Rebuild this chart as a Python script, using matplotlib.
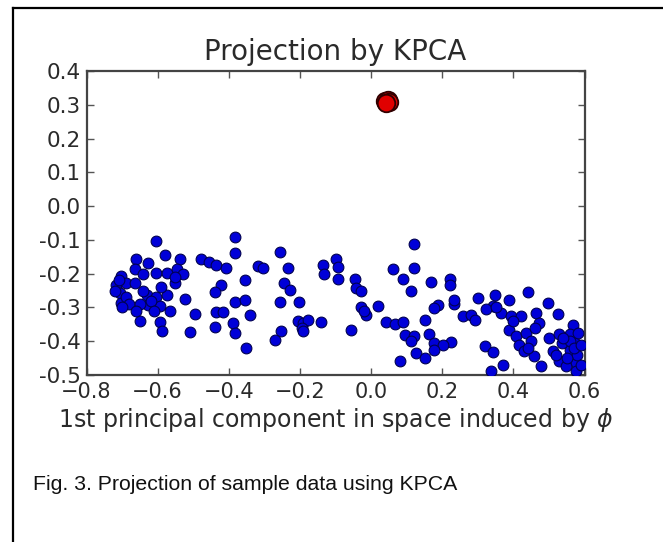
import matplotlib
matplotlib.use("Agg")
import matplotlib.pyplot as plt
from matplotlib.lines import Line2D

# ---------------- DATA ---------------- #
blue_x = [
    # left cluster
    -0.604, -0.580, -0.660, -0.627, -0.538, -0.664, -0.604, -0.575, -0.547, -0.529,
    -0.702, -0.716, -0.688, -0.664, -0.552, -0.706, -0.631, -0.604, -0.575, -0.524,
    -0.702, -0.627, -0.594, -0.566, -0.496, -0.650, -0.594, -0.589, -0.510,
    -0.720, -0.690, -0.680, -0.710, -0.650, -0.640, -0.620, -0.640, -0.590, -0.550,
    -0.700, -0.660, -0.610,
    # -0.5 .. -0.1
    -0.383, -0.383, -0.477, -0.455, -0.435, -0.407, -0.318, -0.305, -0.255, -0.234,
    -0.355, -0.421, -0.440, -0.246, -0.229, -0.383, -0.355, -0.255, -0.203, -0.435,
    -0.416, -0.341, -0.440, -0.388, -0.383, -0.206, -0.190, -0.178, -0.140, -0.195,
    -0.192, -0.252, -0.271, -0.351, -0.135, -0.131, -0.098, -0.093, -0.093,
    # -0.1 .. 0.26
    0.122, 0.061, 0.120, -0.046, 0.089, -0.042, -0.028, 0.113, 0.169, 0.221,
    0.223, -0.028, 0.019, -0.013, -0.020, 0.188, 0.178, 0.234, -0.056, 0.043,
    0.066, 0.089, 0.152, 0.094, 0.122, 0.164, 0.178, 0.225, 0.202, 0.127,
    0.151, 0.178, 0.080, 0.113, 0.234, 0.258,
    # right cluster
    0.441, 0.300, 0.347, 0.387, 0.497, 0.342, 0.281, 0.291, 0.324, 0.366,
    0.394, 0.422, 0.464, 0.525, 0.473, 0.389, 0.408, 0.436, 0.450, 0.417,
    0.431, 0.459, 0.478, 0.501, 0.529, 0.567, 0.558, 0.511, 0.529, 0.558,
    0.572, 0.576, 0.548, 0.319, 0.342, 0.370, 0.338, 0.576, 0.581, 0.538,
    0.580, 0.560, 0.550, 0.570, 0.540, 0.590, 0.590, 0.520, 0.400, 0.440,
    0.460, 0.350,
]
blue_y = [
    -0.104, -0.146, -0.158, -0.168, -0.156, -0.186, -0.199, -0.197, -0.186, -0.202,
    -0.207, -0.235, -0.227, -0.227, -0.227, -0.257, -0.262, -0.269, -0.262, -0.274,
    -0.286, -0.294, -0.296, -0.311, -0.318, -0.341, -0.344, -0.371, -0.374,
    -0.250, -0.270, -0.290, -0.220, -0.290, -0.250, -0.280, -0.200, -0.240, -0.210,
    -0.300, -0.310, -0.310,
    -0.091, -0.140, -0.158, -0.166, -0.174, -0.183, -0.178, -0.184, -0.136, -0.183,
    -0.219, -0.235, -0.255, -0.229, -0.247, -0.284, -0.279, -0.284, -0.284, -0.314,
    -0.314, -0.321, -0.358, -0.346, -0.375, -0.341, -0.345, -0.338, -0.344, -0.360,
    -0.371, -0.371, -0.395, -0.420, -0.173, -0.202, -0.158, -0.215, -0.180,
    -0.113, -0.185, -0.183, -0.215, -0.217, -0.242, -0.252, -0.252, -0.225, -0.215,
    -0.235, -0.298, -0.296, -0.321, -0.310, -0.294, -0.301, -0.291, -0.366, -0.344,
    -0.348, -0.344, -0.336, -0.383, -0.385, -0.380, -0.405, -0.403, -0.410, -0.435,
    -0.450, -0.425, -0.460, -0.400, -0.277, -0.326,
    -0.255, -0.272, -0.262, -0.277, -0.288, -0.296, -0.321, -0.336, -0.306, -0.316,
    -0.326, -0.326, -0.316, -0.318, -0.346, -0.366, -0.385, -0.377, -0.400, -0.410,
    -0.430, -0.445, -0.474, -0.390, -0.380, -0.351, -0.380, -0.430, -0.460, -0.425,
    -0.405, -0.465, -0.474, -0.415, -0.433, -0.470, -0.487, -0.489, -0.375, -0.405,
    -0.440, -0.400, -0.450, -0.420, -0.390, -0.410, -0.470, -0.440, -0.340, -0.420,
    -0.360, -0.300,
]

red_x = [0.040, 0.047, 0.050, 0.043]
red_y = [0.310, 0.315, 0.307, 0.304]

xticks = [-0.8, -0.6, -0.4, -0.2, 0.0, 0.2, 0.4, 0.6]
xtick_labels = ["\u22120.8", "\u22120.6", "\u22120.4", "\u22120.2", "0.0", "0.2", "0.4", "0.6"]
yticks = [0.4, 0.3, 0.2, 0.1, 0.0, -0.1, -0.2, -0.3, -0.4, -0.5]
ytick_labels = ["0.4", "0.3", "0.2", "0.1", "0.0", "-0.1", "-0.2", "-0.3", "-0.4", "-0.5"]

# ---------------- FIGURE ---------------- #
fig = plt.figure(figsize=(6.63, 5.42), dpi=100)
ax = fig.add_axes([0.1305, 0.3081, 0.7511, 0.5609])

ax.scatter(blue_x, blue_y, s=60, c="#0000d8", edgecolors="#000050", linewidths=0.8, zorder=3)
ax.scatter(red_x, red_y, s=160, c="#e00000", edgecolors="#300000", linewidths=1.3, zorder=4)

ax.set_xlim(-0.8, 0.6)
ax.set_ylim(-0.5, 0.4)
ax.set_xticks(xticks)
ax.set_xticklabels(xtick_labels)
ax.set_yticks(yticks)
ax.set_yticklabels(ytick_labels)

txt = "#2a2a2a"
ax.tick_params(direction="in", length=5, width=1, top=True, right=True,
               colors="#555555", labelcolor=txt)
ax.tick_params(axis="x", pad=5, labelsize=15)
ax.tick_params(axis="y", pad=4, labelsize=15.5)
for sp in ax.spines.values():
    sp.set_color("#444444")
    sp.set_linewidth(1.6)

ax.set_title("Projection by KPCA", fontsize=20, color=txt, pad=8)
ax.set_xlabel("1st principal component in space induced by $\\phi$", fontsize=17,
              color=txt, labelpad=3)

# caption
fig.text(0.0505, 0.096, "Fig. 3. Projection of sample data using KPCA",
         family="Liberation Sans", fontsize=15.3, color="#111111", va="baseline")

# page frame: top and left rule
fig.add_artist(Line2D([0.0192, 1.0], [0.9847, 0.9847], color="black", lw=1.6,
                      transform=fig.transFigure))
fig.add_artist(Line2D([0.0192, 0.0192], [0.0, 0.9847], color="black", lw=1.6,
                      transform=fig.transFigure))

fig.savefig("out.png", dpi=100)
